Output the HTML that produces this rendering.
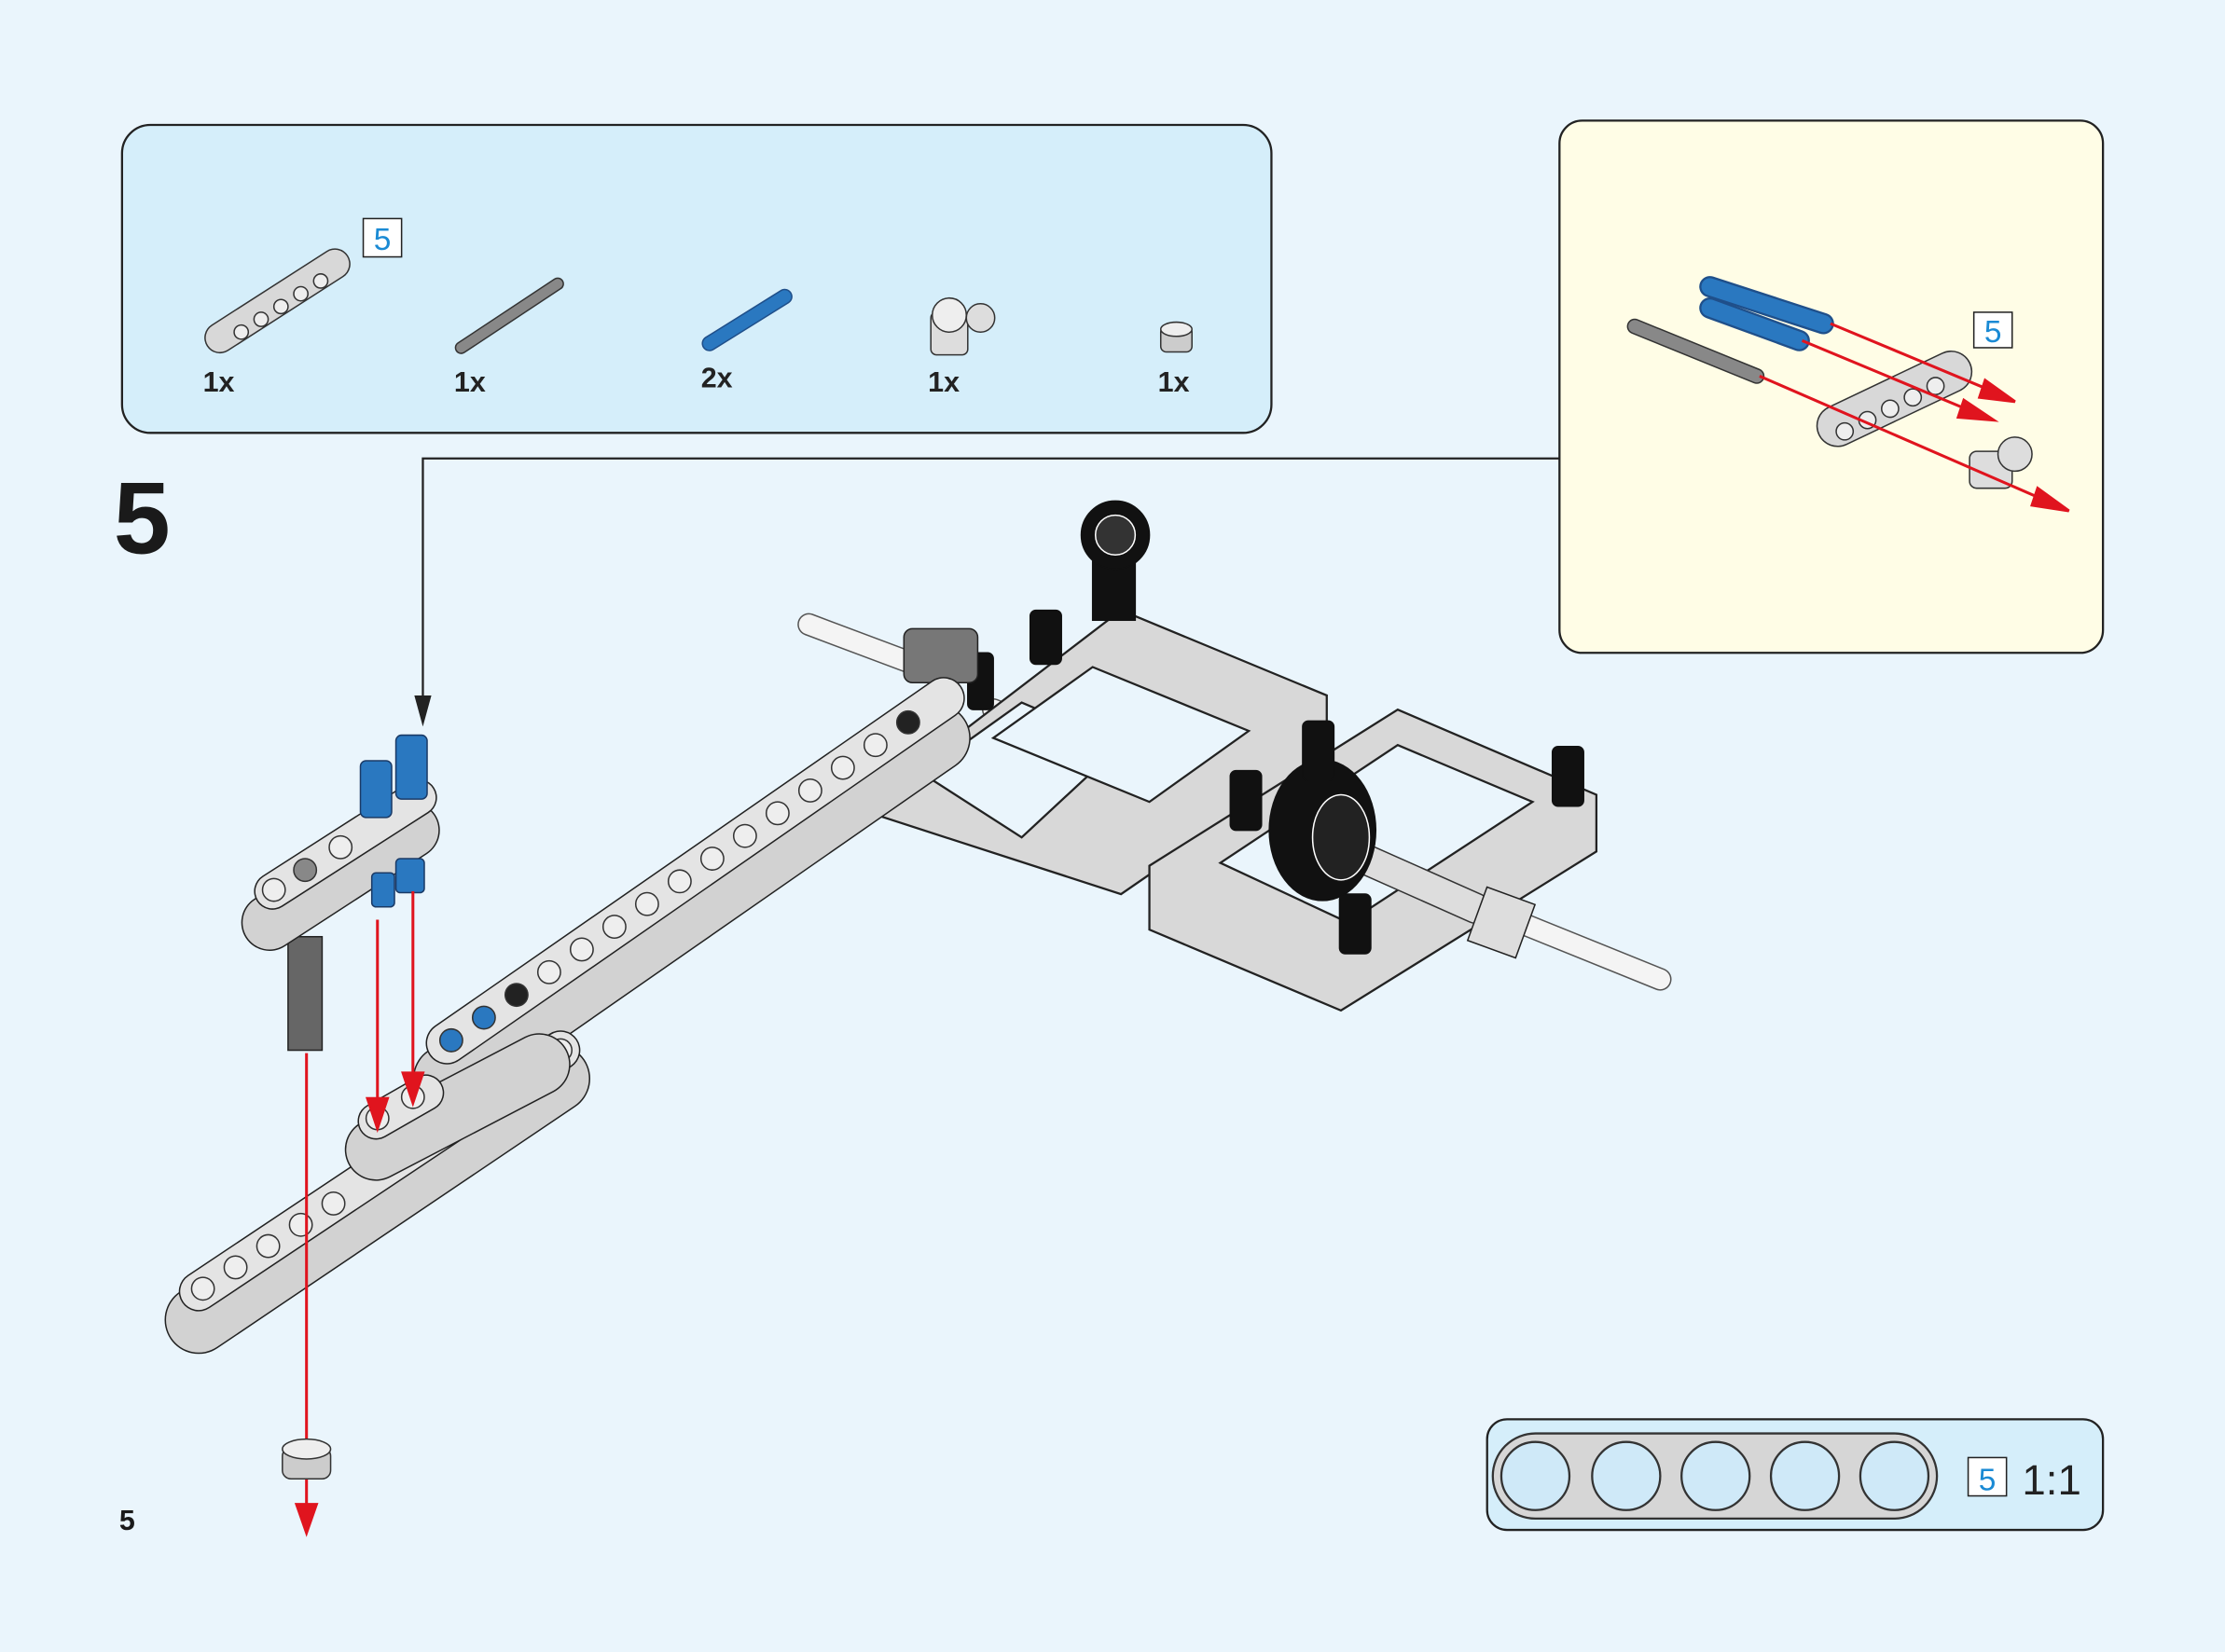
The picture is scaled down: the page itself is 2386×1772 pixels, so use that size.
<!DOCTYPE html>
<html><head><meta charset="utf-8"><style>
html,body{margin:0;padding:0;background:#eaf5fc;}
svg{display:block}
text{font-family:"Liberation Sans",Arial,sans-serif}
</style></head><body>
<svg width="2386" height="1772" viewBox="0 0 1568 1164" preserveAspectRatio="none" xmlns="http://www.w3.org/2000/svg">
<rect width="1568" height="1164" fill="#eaf5fc"/>
<!-- parts box -->
<rect x="86" y="88" width="810" height="217" rx="20" fill="#d5eefa" stroke="#222" stroke-width="1.5"/>
<rect x="1099" y="85" width="383" height="375" rx="16" fill="#fffde6" stroke="#222" stroke-width="1.5"/>
<rect x="1048" y="1000" width="434" height="78" rx="14" fill="#d5eefa" stroke="#222" stroke-width="1.5"/>

<!-- parts list items -->
<g stroke="#333" stroke-width="1">
 <line x1="155" y1="238" x2="236" y2="186" stroke="#333" stroke-width="22" stroke-linecap="round"/>
 <line x1="155" y1="238" x2="236" y2="186" stroke="#d8d8d8" stroke-width="20" stroke-linecap="round"/>
 <g fill="#eee"><circle cx="170" cy="234" r="5"/><circle cx="184" cy="225" r="5"/><circle cx="198" cy="216" r="5"/><circle cx="212" cy="207" r="5"/><circle cx="226" cy="198" r="5"/></g>
 <line x1="325" y1="245" x2="393" y2="200" stroke="#333" stroke-width="9" stroke-linecap="round"/>
 <line x1="325" y1="245" x2="393" y2="200" stroke="#888" stroke-width="7" stroke-linecap="round"/>
 <line x1="500" y1="242" x2="553" y2="209" stroke="#1f4f8a" stroke-width="11" stroke-linecap="round"/>
 <line x1="500" y1="242" x2="553" y2="209" stroke="#2a78c0" stroke-width="9" stroke-linecap="round"/>
 <rect x="656" y="220" width="26" height="30" rx="4" fill="#ddd"/>
 <circle cx="669" cy="222" r="12" fill="#eee"/>
 <circle cx="691" cy="224" r="10" fill="#ddd"/>
 <rect x="818" y="230" width="22" height="18" rx="4" fill="#ccc"/>
 <ellipse cx="829" cy="232" rx="11" ry="5" fill="#eee"/>
</g>
<rect x="256" y="154" width="27" height="27" fill="#fff" stroke="#222" stroke-width="1"/>
<text x="269.5" y="176" font-size="22" fill="#1a8ad4" text-anchor="middle">5</text>
<g font-size="20" font-weight="bold" fill="#222">
<text x="143" y="276">1x</text><text x="320" y="276">1x</text><text x="494" y="273">2x</text><text x="654" y="276">1x</text><text x="816" y="276">1x</text>
</g>

<!-- step number -->
<text x="80" y="390" font-size="72" font-weight="bold" fill="#1a1a1a">5</text>
<text x="84" y="1078" font-size="20" font-weight="bold" fill="#1a1a1a">5</text>

<!-- callout line -->
<polyline points="1099,323 298,323 298,500" fill="none" stroke="#222" stroke-width="1.5"/>
<polygon points="292,490 304,490 298,512" fill="#222"/>

<!-- yellow box contents -->
<line x1="1152" y1="230" x2="1238" y2="265" stroke="#333" stroke-width="11" stroke-linecap="round"/>
<line x1="1152" y1="230" x2="1238" y2="265" stroke="#888" stroke-width="9" stroke-linecap="round"/>
<line x1="1205" y1="202" x2="1285" y2="228" stroke="#1f4f8a" stroke-width="15" stroke-linecap="round"/>
<line x1="1205" y1="202" x2="1285" y2="228" stroke="#2a78c0" stroke-width="12" stroke-linecap="round"/>
<line x1="1205" y1="217" x2="1268" y2="240" stroke="#1f4f8a" stroke-width="15" stroke-linecap="round"/>
<line x1="1205" y1="217" x2="1268" y2="240" stroke="#2a78c0" stroke-width="12" stroke-linecap="round"/>
<line x1="1295" y1="300" x2="1375" y2="262" stroke="#333" stroke-width="30" stroke-linecap="round"/>
<line x1="1295" y1="300" x2="1375" y2="262" stroke="#d8d8d8" stroke-width="28" stroke-linecap="round"/>
<g fill="#eee" stroke="#333"><circle cx="1300" cy="304" r="6"/><circle cx="1316" cy="296" r="6"/><circle cx="1332" cy="288" r="6"/><circle cx="1348" cy="280" r="6"/><circle cx="1364" cy="272" r="6"/></g>
<rect x="1388" y="318" width="30" height="26" rx="5" fill="#ddd" stroke="#333"/>
<circle cx="1420" cy="320" r="12" fill="#ddd" stroke="#333"/>
<g stroke="#e0141e" stroke-width="2" fill="#e0141e">
<line x1="1240" y1="265" x2="1440" y2="352"/><polygon points="1458,360 1436,344 1432,356"/>
<line x1="1270" y1="240" x2="1390" y2="290"/><polygon points="1405,296 1384,282 1380,294"/>
<line x1="1290" y1="228" x2="1405" y2="276"/><polygon points="1420,283 1399,268 1395,280"/>
</g>
<rect x="1391" y="220" width="27" height="25" fill="#fff" stroke="#222"/>
<text x="1404.5" y="241" font-size="22" fill="#1a8ad4" text-anchor="middle">5</text>

<!-- ratio box -->
<path d="M1082,1010 L1335,1010 A30,30 0 0 1 1335,1070 L1082,1070 A30,30 0 0 1 1082,1010 Z" fill="#d6d6d6" stroke="#333" stroke-width="1.5"/>
<g fill="#cfe9f8" stroke="#333" stroke-width="1.5">
<circle cx="1082" cy="1040" r="24"/><circle cx="1146" cy="1040" r="24"/><circle cx="1209" cy="1040" r="24"/><circle cx="1272" cy="1040" r="24"/><circle cx="1335" cy="1040" r="24"/></g>
<rect x="1387" y="1027" width="27" height="27" fill="#fff" stroke="#222"/>
<text x="1400.5" y="1050" font-size="22" fill="#1a8ad4" text-anchor="middle">5</text>
<text x="1425" y="1053" font-size="30" fill="#222">1:1</text>

<!-- main model -->
<!-- axles -->
<line x1="570" y1="440" x2="650" y2="470" stroke="#555" stroke-width="16" stroke-linecap="round"/>
<line x1="570" y1="440" x2="650" y2="470" stroke="#f4f4f4" stroke-width="14" stroke-linecap="round"/>
<line x1="700" y1="500" x2="1170" y2="690" stroke="#555" stroke-width="16" stroke-linecap="round"/>
<line x1="700" y1="500" x2="1170" y2="690" stroke="#f4f4f4" stroke-width="14" stroke-linecap="round"/>

<!-- frame 1 -->
<g stroke="#222" stroke-width="1.5">
<polygon points="620,560 790,430 935,490 935,530 790,630 620,575" fill="#d8d8d8"/>
<polygon points="650,545 720,495 790,525 720,590" fill="#eaf5fc"/>
<polygon points="700,520 770,470 880,515 810,565" fill="#eaf5fc"/>
</g>
<!-- frame 2 -->
<g stroke="#222" stroke-width="1.5">
<polygon points="810,610 985,500 1125,560 1125,600 945,712 810,655" fill="#d8d8d8"/>
<polygon points="860,608 985,525 1080,565 950,650" fill="#eaf5fc"/>
</g>
<line x1="950" y1="600" x2="1040" y2="640" stroke="#333" stroke-width="22" stroke-linecap="round"/>
<line x1="950" y1="600" x2="1040" y2="640" stroke="#ddd" stroke-width="20" stroke-linecap="round"/>
<rect x="1040" y="630" width="36" height="40" fill="#ddd" stroke="#222" transform="rotate(20 1058 650)"/>
<!-- gear -->
<ellipse cx="932" cy="585" rx="38" ry="50" fill="#111"/>
<ellipse cx="945" cy="590" rx="20" ry="30" fill="#222" stroke="#fff" stroke-width="1"/>
<!-- black pins -->
<g fill="#111" stroke="#111">
<rect x="726" y="430" width="22" height="38" rx="4"/>
<rect x="682" y="460" width="18" height="40" rx="4"/>
<rect x="918" y="508" width="22" height="42" rx="4"/>
<rect x="867" y="543" width="22" height="42" rx="4"/>
<rect x="1094" y="526" width="22" height="42" rx="4"/>
<rect x="944" y="630" width="22" height="42" rx="4"/>
<rect x="770" y="375" width="30" height="62"/>
<circle cx="786" cy="377" r="24"/>
</g>
<circle cx="786" cy="377" r="14" fill="#333" stroke="#fff" stroke-width="1"/>
<!-- gray bushing on axle -->
<rect x="637" y="443" width="52" height="38" rx="6" fill="#777" stroke="#222"/>

<!-- long diagonal beam -->
<line x1="315" y1="760" x2="660" y2="520" stroke="#222" stroke-width="48" stroke-linecap="round"/>
<line x1="315" y1="760" x2="660" y2="520" stroke="#d2d2d2" stroke-width="46" stroke-linecap="round"/>
<line x1="315" y1="735" x2="665" y2="492" stroke="#222" stroke-width="30" stroke-linecap="round"/>
<line x1="315" y1="735" x2="665" y2="492" stroke="#e4e4e4" stroke-width="28" stroke-linecap="round"/>
<g fill="#eee" stroke="#333" stroke-width="1">
<circle cx="318" cy="733" r="8" fill="#2a78c0"/><circle cx="341" cy="717" r="8" fill="#2a78c0"/><circle cx="364" cy="701" r="8" fill="#222"/>
<circle cx="387" cy="685" r="8"/><circle cx="410" cy="669" r="8"/><circle cx="433" cy="653" r="8"/><circle cx="456" cy="637" r="8"/><circle cx="479" cy="621" r="8"/><circle cx="502" cy="605" r="8"/><circle cx="525" cy="589" r="8"/><circle cx="548" cy="573" r="8"/><circle cx="571" cy="557" r="8"/><circle cx="594" cy="541" r="8"/><circle cx="617" cy="525" r="8"/><circle cx="640" cy="509" r="8" fill="#222"/></g>

<!-- lower beam -->
<line x1="140" y1="930" x2="392" y2="760" stroke="#222" stroke-width="48" stroke-linecap="round"/>
<line x1="140" y1="930" x2="392" y2="760" stroke="#d2d2d2" stroke-width="46" stroke-linecap="round"/>
<line x1="140" y1="910" x2="395" y2="740" stroke="#222" stroke-width="28" stroke-linecap="round"/>
<line x1="140" y1="910" x2="395" y2="740" stroke="#e4e4e4" stroke-width="26" stroke-linecap="round"/>
<g fill="#eee" stroke="#333"><circle cx="143" cy="908" r="8"/><circle cx="166" cy="893" r="8"/><circle cx="189" cy="878" r="8"/><circle cx="212" cy="863" r="8"/><circle cx="235" cy="848" r="8"/><circle cx="395" cy="740" r="8"/></g>
<!-- short beam -->
<line x1="265" y1="810" x2="380" y2="750" stroke="#222" stroke-width="44" stroke-linecap="round"/>
<line x1="265" y1="810" x2="380" y2="750" stroke="#d2d2d2" stroke-width="42" stroke-linecap="round"/>
<line x1="265" y1="790" x2="300" y2="770" stroke="#222" stroke-width="26" stroke-linecap="round"/>
<line x1="265" y1="790" x2="300" y2="770" stroke="#e4e4e4" stroke-width="24" stroke-linecap="round"/>
<g fill="#eee" stroke="#333"><circle cx="266" cy="788" r="8"/><circle cx="291" cy="773" r="8"/></g>

<!-- top beam with blue pins -->
<rect x="203" y="660" width="24" height="80" fill="#666" stroke="#222"/>
<line x1="190" y1="650" x2="290" y2="585" stroke="#222" stroke-width="40" stroke-linecap="round"/>
<line x1="190" y1="650" x2="290" y2="585" stroke="#d2d2d2" stroke-width="38" stroke-linecap="round"/>
<line x1="192" y1="628" x2="295" y2="562" stroke="#222" stroke-width="26" stroke-linecap="round"/>
<line x1="192" y1="628" x2="295" y2="562" stroke="#e4e4e4" stroke-width="24" stroke-linecap="round"/>
<g fill="#eee" stroke="#333"><circle cx="193" cy="627" r="8"/><circle cx="215" cy="613" r="8" fill="#888"/><circle cx="240" cy="597" r="8"/></g>
<g fill="#2a78c0" stroke="#1a3a66">
<rect x="254" y="536" width="22" height="40" rx="4"/>
<rect x="279" y="518" width="22" height="45" rx="4"/>
<rect x="279" y="605" width="20" height="24" rx="3"/>
<rect x="262" y="615" width="16" height="24" rx="3"/>
</g>

<!-- red arrows -->
<g stroke="#e0141e" stroke-width="2" fill="#e0141e">
<line x1="266" y1="648" x2="266" y2="776"/><polygon points="259,774 273,774 266,795"/>
<line x1="291" y1="628" x2="291" y2="758"/><polygon points="284,756 298,756 291,777"/>
<line x1="216" y1="742" x2="216" y2="1062"/><polygon points="209,1060 223,1060 216,1080"/>
</g>
<!-- bushing -->
<rect x="199" y="1020" width="34" height="22" rx="6" fill="#ccc" stroke="#333"/>
<ellipse cx="216" cy="1021" rx="17" ry="7" fill="#eee" stroke="#333"/>
</svg>
</body></html>
